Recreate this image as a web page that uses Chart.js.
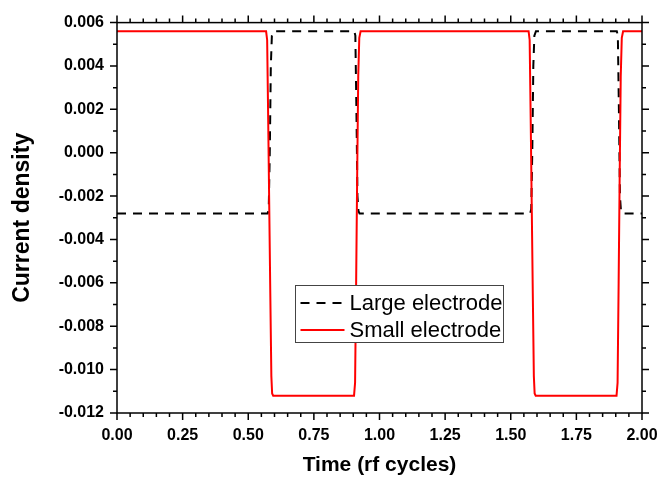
<!DOCTYPE html>
<html><head><meta charset="utf-8">
<script src="https://cdn.jsdelivr.net/npm/chart.js@4.4.0/dist/chart.umd.min.js"></script>
<style>html,body{margin:0;padding:0;background:#fff}#wrap{width:660px;height:477px}</style>
</head><body><div id="wrap"><canvas id="c" width="660" height="477"></canvas></div>
<script>
const seriesNames = ['Large electrode', 'Small electrode'];
const largeTime = [0, 0.574, 0.578, 0.582, 0.586, 0.590, 0.596, 0.904, 0.908, 0.912, 0.916, 0.920, 0.924,
  1.574, 1.578, 1.582, 1.586, 1.590, 1.596, 1.904, 1.908, 1.912, 1.916, 1.920, 1.924, 2.0];
const largeCurrent = [-0.0028, -0.0028, -0.0026, 0.0000, 0.0040, 0.0054, 0.0056, 0.0056, 0.0054, 0.0020, -0.0020, -0.0027, -0.0028,
  -0.0028, -0.0026, 0.0000, 0.0040, 0.0054, 0.0056, 0.0056, 0.0054, 0.0020, -0.0020, -0.0027, -0.0028, -0.0028];
const smallTime = [0, 0.568, 0.572, 0.576, 0.580, 0.584, 0.588, 0.591, 0.595, 0.903, 0.907, 0.911, 0.915, 0.919, 0.923, 0.928,
  1.568, 1.572, 1.576, 1.580, 1.584, 1.588, 1.591, 1.595, 1.903, 1.907, 1.911, 1.915, 1.919, 1.923, 1.928, 2.0];
const smallCurrent = [0.0056, 0.0056, 0.0052, 0.0015, -0.0025, -0.0065, -0.0103, -0.0111, -0.0112, -0.0112, -0.0106, -0.0060, -0.0010, 0.0035, 0.0053, 0.0056,
  0.0056, 0.0052, 0.0015, -0.0025, -0.0065, -0.0103, -0.0111, -0.0112, -0.0112, -0.0106, -0.0060, -0.0010, 0.0035, 0.0053, 0.0056, 0.0056];
const xRange = [0, 2];
const yRange = [-0.012, 0.006];
const xMajorStep = 0.25, xMinorStep = 0.05;
const yMajorStep = 0.002, yMinorStep = 0.001;

const FONT = "'Liberation Sans', Arial, sans-serif";
const toPts = (xs, ys) => xs.map((x, i) => ({x: x, y: ys[i]}));

const frameTicks = {
  id: 'frameTicks',
  afterDatasetsDraw(chart) {
    const ctx = chart.ctx, a = chart.chartArea, xs = chart.scales.x, ys = chart.scales.y;
    ctx.save();
    ctx.strokeStyle = '#000';
    ctx.lineWidth = 1.5;
    ctx.strokeRect(a.left, a.top, a.right - a.left, a.bottom - a.top);
    ctx.beginPath();
    const nx = Math.round((xRange[1] - xRange[0]) / xMinorStep);
    for (let i = 0; i <= nx; i++) {
      const v = xRange[0] + i * xMinorStep;
      const len = (i % Math.round(xMajorStep / xMinorStep) === 0) ? 7 : 4;
      const px = xs.getPixelForValue(v);
      ctx.moveTo(px, a.bottom); ctx.lineTo(px, a.bottom + len);
      ctx.moveTo(px, a.top); ctx.lineTo(px, a.top - len);
    }
    const ny = Math.round((yRange[1] - yRange[0]) / yMinorStep);
    for (let i = 0; i <= ny; i++) {
      const v = yRange[0] + i * yMinorStep;
      const len = (i % Math.round(yMajorStep / yMinorStep) === 0) ? 7 : 4;
      const py = ys.getPixelForValue(v);
      ctx.moveTo(a.left, py); ctx.lineTo(a.left - len, py);
      ctx.moveTo(a.right, py); ctx.lineTo(a.right + len, py);
    }
    ctx.stroke();
    ctx.restore();
  },
  afterDraw(chart) {
    const ctx = chart.ctx;
    ctx.save();
    const bx = 295.5, by = 285.5, bw = 208, bh = 57;
    ctx.fillStyle = '#fff';
    ctx.fillRect(bx, by, bw, bh);
    ctx.strokeStyle = '#444';
    ctx.lineWidth = 1;
    ctx.strokeRect(bx, by, bw, bh);
    const ds = chart.data.datasets;
    const rows = [by + 17.5, by + 44.5];
    ds.forEach((d, i) => {
      ctx.beginPath();
      ctx.strokeStyle = d.borderColor;
      ctx.lineWidth = 2;
      ctx.setLineDash(d.borderDash || []);
      ctx.moveTo(bx + 5, rows[i]);
      ctx.lineTo(bx + 49, rows[i]);
      ctx.stroke();
      ctx.setLineDash([]);
      ctx.fillStyle = '#000';
      ctx.font = '22px ' + FONT;
      ctx.textBaseline = 'middle';
      ctx.textAlign = 'left';
      ctx.fillText(d.label, bx + 54, rows[i] + 1);
    });
    ctx.restore();
  }
};

new Chart(document.getElementById('c'), {
  type: 'line',
  data: {
    datasets: [
      {label: seriesNames[0], data: toPts(largeTime, largeCurrent), borderColor: '#000000', borderWidth: 2,
       borderDash: [9, 7], pointRadius: 0, tension: 0, fill: false, order: 1},
      {label: seriesNames[1], data: toPts(smallTime, smallCurrent), borderColor: '#ff0000', borderWidth: 2,
       pointRadius: 0, tension: 0, fill: false, order: 0}
    ]
  },
  options: {
    responsive: false,
    animation: false,
    events: [],
    layout: {padding: {left: 0, top: 22, right: 0, bottom: 0}},
    plugins: {legend: {display: false}, tooltip: {enabled: false}},
    scales: {
      x: {
        type: 'linear', min: xRange[0], max: xRange[1],
        afterFit(s) { s.height = 64; s.paddingRight = 18; },
        grid: {display: false, drawTicks: false},
        border: {display: false},
        ticks: {stepSize: xMajorStep, padding: 13, color: '#000', maxRotation: 0, autoSkip: false,
          font: {family: FONT, size: 16, weight: 'bold'},
          callback: v => (Math.abs(v) < 1e-9 ? 0 : v).toFixed(2)},
        title: {display: true, text: 'Time (rf cycles)', color: '#000', padding: {top: 0, bottom: 1},
          font: {family: FONT, size: 21, weight: 'bold', lineHeight: 1}}
      },
      y: {
        type: 'linear', min: yRange[0], max: yRange[1],
        afterFit(s) { s.width = 117; },
        grid: {display: false, drawTicks: false},
        border: {display: false},
        ticks: {stepSize: yMajorStep, padding: 13, color: '#000', autoSkip: false,
          font: {family: FONT, size: 16, weight: 'bold'},
          callback: v => (Math.abs(v) < 1e-9 ? 0 : v).toFixed(3)},
        title: {display: true, text: 'Current density', color: '#000', padding: {top: 11, bottom: 0},
          font: {family: FONT, size: 23, weight: 'bold', lineHeight: 1}}
      }
    }
  },
  plugins: [frameTicks]
});
</script></body></html>
